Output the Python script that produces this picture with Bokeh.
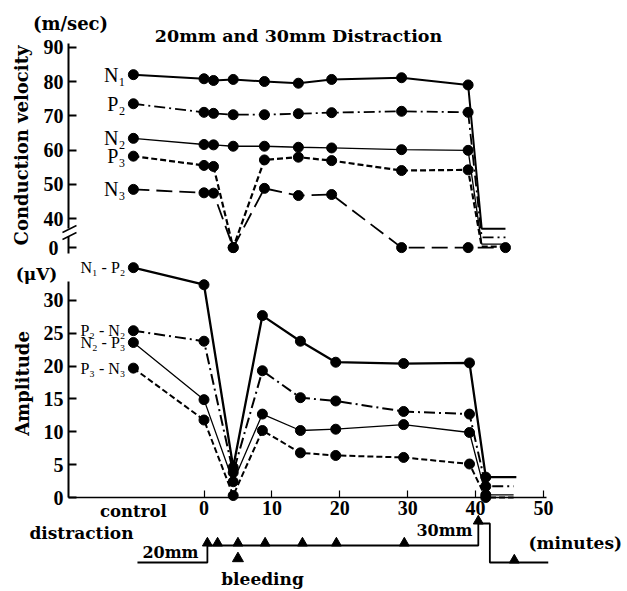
import math
from bokeh.plotting import figure
from bokeh.models import Range1d, FixedTicker, CustomJSTickFormatter, Arrow
from bokeh.layouts import column
from bokeh.core.properties import value
from bokeh.embed import file_html
from bokeh.resources import INLINE

# ---------------- data ----------------
CONTROL_T = -10.4
# conduction velocity (m/sec); 0 = response lost
t_vel = [CONTROL_T, 0, 1.4, 4.3, 8.9, 13.9, 18.8, 29.1, 38.9]
vel_N1 = [82.0, 80.8, 80.3, 80.6, 80.0, 79.5, 80.6, 81.1, 79.0]
vel_P2 = [73.5, 71.0, 70.7, 70.3, 70.3, 70.6, 70.9, 71.3, 71.0]
vel_N2 = [63.4, 61.6, 61.5, 61.1, 61.1, 60.8, 60.6, 60.1, 59.9]
vel_P3 = [58.2, 55.5, 55.2, 0.0, 57.1, 57.9, 56.9, 54.0, 54.2]
vel_N3 = [48.5, 47.5, 47.4, 0.0, 48.8, 46.7, 47.0, 0.0, 0.0]
vel_tail_t = [40.9, 44.4]
vel_tail_v = [0.0, 0.0]
vel_names = ["N\u2081", "P\u2082", "N\u2082", "P\u2083", "N\u2083"]

# amplitude (microvolt)
t_amp = [CONTROL_T, 0, 4.3, 8.6, 14.2, 19.4, 29.4, 39.1, 41.5]
amp_N1P2 = [35.0, 32.4, 4.6, 27.7, 23.8, 20.6, 20.4, 20.5, 3.1]
amp_P2N2 = [25.4, 23.8, 3.8, 19.3, 15.2, 14.7, 13.1, 12.7, 1.7]
amp_N2P3 = [23.6, 14.9, 2.4, 12.7, 10.2, 10.4, 11.1, 9.9, 0.4]
amp_P3N3 = [19.7, 11.8, 0.3, 10.2, 6.8, 6.4, 6.1, 5.1, 0.0]
amp_tail_end = [46.0, 45.6, 45.6, 45.6]
amp_names = ["N\u2081 - P\u2082", "P\u2082 - N\u2082", "N\u2082 - P\u2083", "P\u2083 - N\u2083"]

# distraction protocol
dist_t = [-9.8, 0.5, 40.4, 42.1, 50.7]
dist_mm = [0, 20, 30, 0, 0]
mark_t = [0.5, 2.0, 5.0, 9.0, 14.5, 19.5, 29.5, 40.4, 45.7]
bleeding_t = 5.0

x_ticks = [0, 10, 20, 30, 40, 50]
vel_ticks = [40, 50, 60, 70, 80, 90]
amp_ticks = [0, 5, 10, 15, 20, 25, 30]

# ---------------- layout helpers (pixel geometry) ----------------
SERIF = "DejaVu Serif"
ROMAN = "Liberation Serif"
W = 627
A_H = 260                # page px where the top panel ends
X0_PX, X_PER = 203.5, 6.79          # px of t=0, px per minute
def tx(px):
    return (px - X0_PX) / X_PER
def va(py):                          # velocity panel (absolute page px)
    return 80 - (py - 81) / 3.425
def vb(py):                          # amplitude panel (absolute page px)
    return (497 - py) / 6.567

AXIS_T = tx(68)                      # x position of the vertical axes
ZERO_POS = 31.5                      # where 0 sits under the axis break
def vdisp(v, off=0.0):
    return v if v >= 35 else ZERO_POS + v + off

def txt(fig, x, y, text, size="16px", bold=True, align="center",
        baseline="middle", angle=0.0, font=SERIF):
    fig.text([x], [y], text=[text], text_font=value(font), text_font_size=size,
             text_font_style="bold" if bold else "normal", text_align=align,
             text_baseline=baseline, angle=angle, text_color="black")

def seg(fig, x0, y0, x1, y1, color="black", width=1.5):
    fig.add_layout(Arrow(end=None, x_start=x0, y_start=y0, x_end=x1, y_end=y1,
                         line_color=color, line_width=width))

def style_axis(ax, size="20px"):
    ax.axis_line_width = 2
    ax.axis_line_color = "black"
    ax.major_tick_line_width = 2
    ax.major_tick_line_color = "black"
    ax.major_tick_in = 8
    ax.major_tick_out = 0
    ax.minor_tick_line_color = None
    ax.major_label_text_font = ROMAN
    ax.major_label_text_font_style = "bold"
    ax.major_label_text_font_size = size
    ax.major_label_text_color = "black"

def make_fig(h, y0, y1, **kw):
    p = figure(width=W, height=h, output_backend="svg", toolbar_location=None,
               x_range=Range1d(tx(0), tx(W)), y_range=Range1d(y0, y1),
               min_border=0, min_border_left=0, min_border_right=0,
               min_border_top=0, min_border_bottom=0, **kw)
    p.grid.visible = False
    p.outline_line_color = None
    p.background_fill_color = "white"
    return p

# ---------------- top panel: conduction velocity ----------------
pA = make_fig(A_H, va(A_H), va(0), x_axis_location=None)
ya = pA.yaxis[0]
style_axis(ya)
ya.fixed_location = AXIS_T
ya.ticker = FixedTicker(ticks=vel_ticks)
ya.formatter = CustomJSTickFormatter(code="return String(Math.round(tick))")
ya.bounds = (va(253), va(43))
ya.major_label_standoff = 5

vel_series = [vel_N1, vel_P2, vel_N2, vel_P3, vel_N3]
vel_styles = [dict(line_width=2.0, line_dash="solid"),
              dict(line_width=1.8, line_dash="11 4 2 4"),
              dict(line_width=1.3, line_dash="solid"),
              dict(line_width=2.2, line_dash="6 3"),
              dict(line_width=1.8, line_dash="16 7")]
tail_offsets = [5.5, 3.0, 1.0, 0.3, 0.0]
for i, (vals, st) in enumerate(zip(vel_series, vel_styles)):
    xs = list(t_vel) + vel_tail_t
    ys = [vdisp(v) for v in vals] + [vdisp(v, tail_offsets[i]) for v in vel_tail_v]
    pA.line(xs, ys, line_color="black", **st)
    pA.scatter(t_vel, [vdisp(v) for v in vals], size=10, color="black")
    pA.text([t_vel[0]], [vdisp(vals[0])], text=[vel_names[i]],
            text_font=value(ROMAN), text_font_size="20px", text_align="right",
            text_baseline="middle", x_offset=-8, text_color="black")
# N3 end dot
pA.scatter([vel_tail_t[-1]], [vdisp(vel_tail_v[-1])], size=10, color="black")

# axis break and the "0" below it
seg(pA, AXIS_T, va(228), AXIS_T, va(236), color="white", width=5)
seg(pA, tx(62), va(232), tx(76), va(225), width=1.5)
seg(pA, tx(62), va(239), tx(76), va(232), width=1.5)
seg(pA, AXIS_T, ZERO_POS, tx(76), ZERO_POS, width=2)
pA.text([AXIS_T], [ZERO_POS], text=["0"], text_font=value(ROMAN),
        text_font_size="20px", text_font_style="bold", text_align="right",
        text_baseline="middle", x_offset=-10, text_color="black")

txt(pA, tx(298), va(35), "20mm and 30mm Distraction", size="17.5px")
txt(pA, tx(70), va(23), "(m/sec)", size="18px")
txt(pA, tx(21), va(145), "Conduction velocity", size="18px", angle=math.pi / 2)

# ---------------- bottom panel: amplitude + protocol ----------------
pB = make_fig(591 - A_H, vb(591), vb(A_H))

xb = pB.xaxis[0]
style_axis(xb)
xb.fixed_location = 0
xb.ticker = FixedTicker(ticks=x_ticks)
xb.bounds = (AXIS_T, tx(546))
xb.major_tick_in = 7
xb.major_tick_line_width = 1.2
xb.axis_line_width = 1.6
xb.major_label_standoff = 3

yb = pB.yaxis[0]
style_axis(yb)
yb.fixed_location = AXIS_T
yb.ticker = FixedTicker(ticks=amp_ticks)
yb.bounds = (0, vb(281))
yb.major_label_standoff = 5

amp_series = [amp_N1P2, amp_P2N2, amp_N2P3, amp_P3N3]
amp_styles = [dict(line_width=2.3, line_dash="solid"),
              dict(line_width=2.0, line_dash="11 4 2 4"),
              dict(line_width=1.3, line_dash="solid"),
              dict(line_width=2.0, line_dash="6 3")]
for i, (vals, st) in enumerate(zip(amp_series, amp_styles)):
    xs = list(t_amp) + [amp_tail_end[i]]
    ys = list(vals) + [vals[-1]]
    pB.line(xs, ys, line_color="black", **st)
    pB.scatter(t_amp, vals, size=10, color="black")
    pB.text([t_amp[0]], [vals[0]], text=[amp_names[i]],
            text_font=value(ROMAN), text_font_size="16px", text_align="right",
            text_baseline="middle", x_offset=-8, text_color="black")

# protocol timeline
LEVEL = {0: vb(562), 20: vb(545), 30: vb(523)}
def mm_at(t):
    mm = dist_mm[0]
    for tt, m in zip(dist_t, dist_mm):
        if tt <= t:
            mm = m
    return mm
pB.step(dist_t, [LEVEL[m] for m in dist_mm], mode="after",
        line_color="black", line_width=1.8)
tri_off = 2.4 / 6.567
pB.scatter(mark_t, [LEVEL[mm_at(t)] + tri_off for t in mark_t],
           marker="triangle", size=10, color="black")
pB.scatter([bleeding_t], [vb(558)], marker="triangle", size=11, color="black")

txt(pB, CONTROL_T, vb(511), "control", size="16.5px")
txt(pB, tx(81), vb(532), "distraction", size="17px")
txt(pB, tx(198), vb(552), "20mm", align="right")
txt(pB, tx(472), vb(530), "30mm", align="right")
txt(pB, tx(528), vb(542), "(minutes)", size="17px", align="left")
txt(pB, tx(262), vb(578), "bleeding", size="17px")
txt(pB, tx(36), vb(273), "(\u03bcV)", size="17px")
txt(pB, tx(22), vb(383), "Amplitude", size="18px", angle=math.pi / 2)

layout = column(pA, pB, spacing=0)
open("out.html", "w").write(file_html(layout, INLINE))
